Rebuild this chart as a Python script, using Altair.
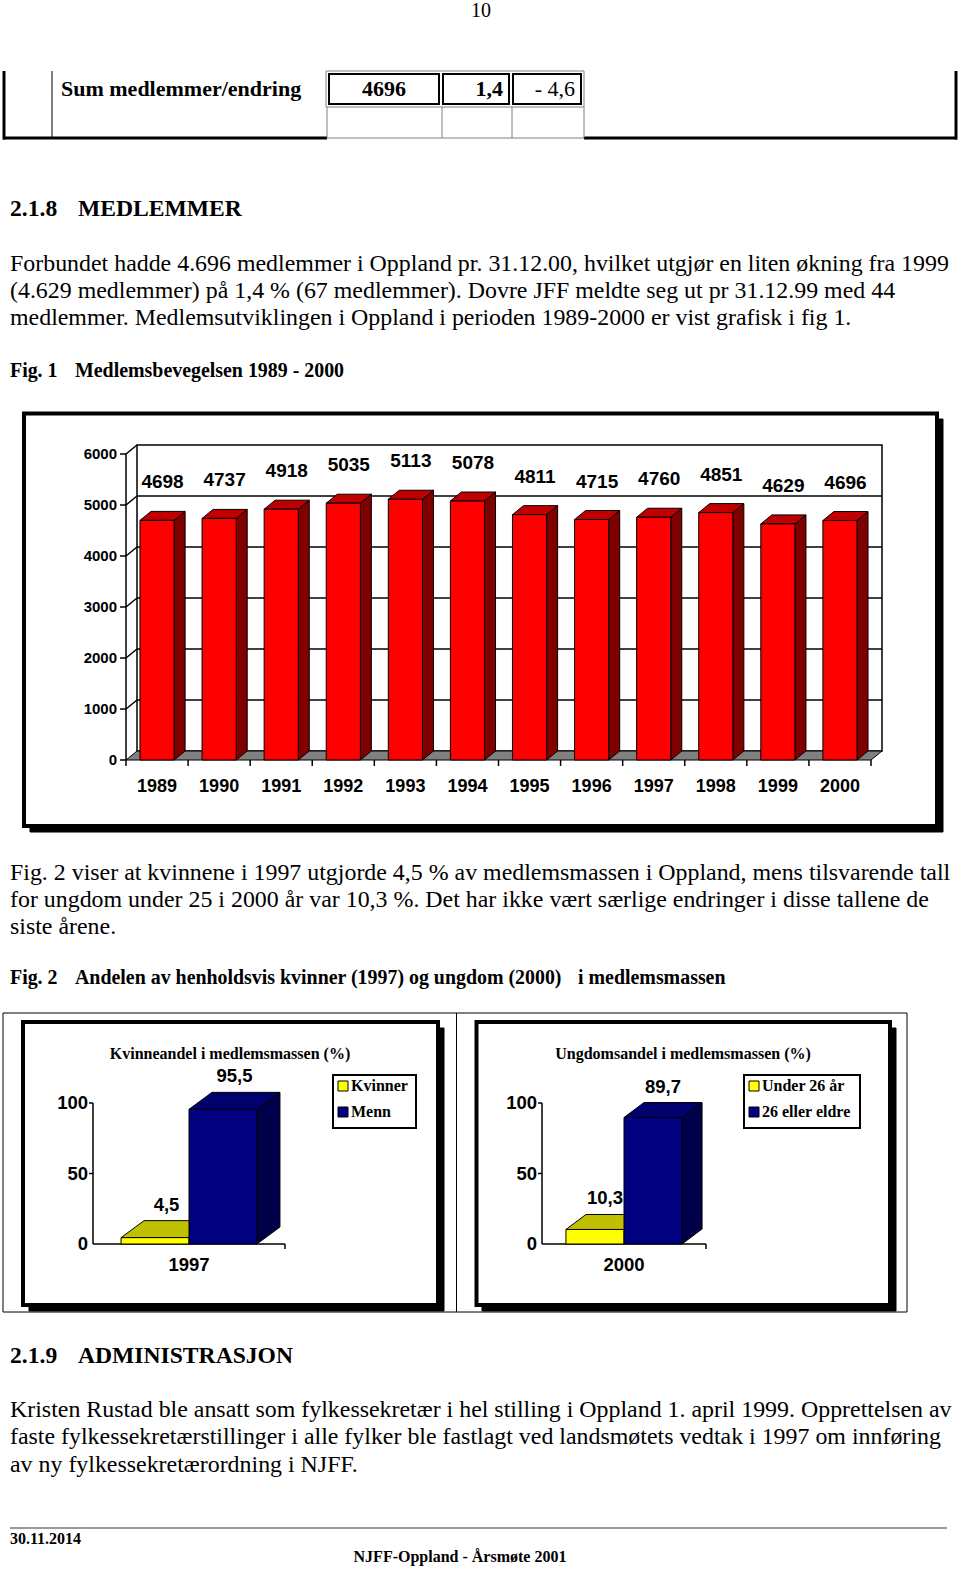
import altair as alt
import pandas as pd

# ---------------- data ----------------
years = ["1989", "1990", "1991", "1992", "1993", "1994",
         "1995", "1996", "1997", "1998", "1999", "2000"]
members = [4698, 4737, 4918, 5035, 5113, 5078, 4811, 4715, 4760, 4851, 4629, 4696]
fig1_ticks = [0, 1000, 2000, 3000, 4000, 5000, 6000]

women_title = "Kvinneandel i medlemsmassen (%)"
women_year = "1997"
women_series = ["Kvinner", "Menn"]
women_values = [4.5, 95.5]
women_labels = ["4,5", "95,5"]

youth_title = "Ungdomsandel i medlemsmassen (%)"
youth_year = "2000"
youth_series = ["Under 26 år", "26 eller eldre"]
youth_values = [10.3, 89.7]
youth_labels = ["10,3", "89,7"]
fig2_ticks = [0, 50, 100]

table_label = "Sum medlemmer/endring"
table_values = ["4696", "1,4", "- 4,6"]

page_number = "10"
heading1 = ["2.1.8", "MEDLEMMER"]
heading2 = ["2.1.9", "ADMINISTRASJON"]
para1 = ["Forbundet hadde 4.696 medlemmer i Oppland pr. 31.12.00, hvilket utgjør en liten økning fra 1999",
         "(4.629 medlemmer) på 1,4 % (67 medlemmer). Dovre JFF meldte seg ut pr 31.12.99 med 44",
         "medlemmer. Medlemsutviklingen i Oppland i perioden 1989-2000 er vist grafisk i fig 1."]
caption1 = ["Fig. 1", "Medlemsbevegelsen 1989 - 2000"]
para2 = ["Fig. 2 viser at kvinnene i 1997 utgjorde 4,5 % av medlemsmassen i Oppland, mens tilsvarende tall",
         "for ungdom under 25 i 2000 år var 10,3 %. Det har ikke vært særlige endringer i disse tallene de",
         "siste årene."]
caption2 = ["Fig. 2", "Andelen av henholdsvis kvinner (1997) og ungdom (2000)", "i medlemsmassen"]
para3 = ["Kristen Rustad ble ansatt som fylkessekretær i hel stilling i Oppland 1. april 1999. Opprettelsen av",
         "faste fylkessekretærstillinger i alle fylker ble fastlagt ved landsmøtets vedtak i 1997 om innføring",
         "av ny fylkessekretærordning i NJFF."]
footer_date = "30.11.2014"
footer_title = "NJFF-Oppland - Årsmøte 2001"

# ---------------- styles ----------------
SERIF = "Liberation Serif"
SANS = "Liberation Sans"
RED = ["#FF0000", "#C00000", "#800000"]          # front, top, side
YELLOW = ["#FFFF00", "#C0C000", "#9A9A00"]
NAVY = ["#000080", "#00006E", "#00004A"]


def px(f):
    return alt.X(f"{f}:Q", scale=None, axis=None)


def py(f):
    return alt.Y(f"{f}:Q", scale=None, axis=None)


def page_text(rows, font, size, weight="normal", align="left"):
    df = pd.DataFrame(rows, columns=["t", "x", "y"])
    return alt.Chart(df).mark_text(font=font, fontSize=size, fontWeight=weight, align=align,
                                   baseline="middle", color="black").encode(
        x=px("x"), y=py("y"), text="t:N")


def page_rects(rows):
    df = pd.DataFrame(rows, columns=["x", "y", "x2", "y2", "fill", "stroke", "sw"])
    return alt.Chart(df).mark_rect().encode(
        x=px("x"), y=py("y"), x2="x2:Q", y2="y2:Q",
        fill=alt.Fill("fill:N", scale=None),
        stroke=alt.Stroke("stroke:N", scale=None),
        strokeWidth=alt.StrokeWidth("sw:Q", scale=None))


def page_rules(rows):
    df = pd.DataFrame(rows, columns=["x", "y", "x2", "y2", "c", "sw"])
    return alt.Chart(df).mark_rule().encode(
        x=px("x"), y=py("y"), x2="x2:Q", y2="y2:Q",
        color=alt.Color("c:N", scale=None),
        strokeWidth=alt.StrokeWidth("sw:Q", scale=None))


# ---------------- page layer ----------------
rects = [
    # table row 1 double border
    (326, 71, 584, 107, "white", "#808080", 1),
    (329, 74, 439, 104, "white", "black", 2),
    (443, 74, 509, 104, "white", "black", 2),
    (513, 74, 581, 104, "white", "black", 2),
    # fig 1 frame
    (30, 419, 943, 832, "black", "black", 1),
    (24, 413.5, 937, 826, "white", "black", 4),
    # fig 2 frames
    (3, 1013, 907, 1312, "white", "black", 1),
    (29, 1028, 444, 1311, "black", "black", 1),
    (23, 1022, 438, 1305, "white", "black", 4),
    (482, 1028, 896, 1311, "black", "black", 1),
    (476.5, 1022, 890, 1305, "white", "black", 4),
    # legend boxes
    (333, 1075, 416, 1128, "white", "black", 2),
    (744, 1075, 860, 1128, "white", "black", 2),
]
rules = [
    (4, 71, 4, 139.5, "black", 3),
    (52, 71, 52, 138, "black", 1),
    (956, 71, 956, 139.5, "black", 3),
    (3, 138, 327, 138, "black", 3),
    (584, 138, 957, 138, "black", 3),
    (327, 138, 584, 138, "#808080", 1),
    (327, 107, 327, 138, "#808080", 1),
    (442, 107, 442, 138, "#808080", 1),
    (512, 107, 512, 138, "#808080", 1),
    (584, 107, 584, 138, "#808080", 1),
    (456.5, 1013, 456.5, 1312, "black", 1),
    (10, 1528, 947, 1528, "#9a9a9a", 2),
]

# legend entries built from series names and colours
leg_rows = []
leg_text = []
for (names, x0) in [(women_series, 338), (youth_series, 749)]:
    for k, (nm, col) in enumerate(zip(names, [YELLOW[0], NAVY[0]])):
        yc = [1086, 1112][k]
        leg_rows.append((x0, yc - 5, x0 + 10, yc + 5, col, "black", 1))
        leg_text.append((nm, x0 + 13, yc))

body_y = [264, 291, 318]
body2_y = [873, 900, 927]
body3_y = [1410, 1437, 1465]
page = alt.layer(
    page_rects(rects),
    page_rules(rules),
    page_rects(leg_rows),
    page_text([(page_number, 481, 11)], SERIF, 20, align="center"),
    page_text([(table_label, 61, 89)], SERIF, 22, "bold"),
    page_text([(table_values[0], 384, 89)], SERIF, 22, "bold", "center"),
    page_text([(table_values[1], 503, 89)], SERIF, 22, "bold", "right"),
    page_text([(table_values[2], 575, 89)], SERIF, 22, "normal", "right"),
    page_text([(heading1[0], 10, 209), (heading1[1], 78, 209),
               (heading2[0], 10, 1356), (heading2[1], 78, 1356)], SERIF, 23.6, "bold"),
    page_text([(t, 10, y) for t, y in zip(para1 + para2 + para3, body_y + body2_y + body3_y)],
              SERIF, 23.9),
    page_text([(caption1[0], 10, 371), (caption1[1], 75, 371),
               (caption2[0], 10, 978), (caption2[1], 75, 978), (caption2[2], 578, 978)],
              SERIF, 19.9, "bold"),
    page_text([(women_title, 230, 1054), (youth_title, 683, 1054)], SERIF, 16, "bold", "center"),
    page_text(leg_text, SERIF, 16, "bold"),
    page_text([(footer_date, 10, 1539)], SERIF, 16, "bold"),
    page_text([(footer_title, 460, 1557)], SERIF, 16, "bold", "center"),
)


# ---------------- 3D bar helpers ----------------
def lin(domain, rng):
    return alt.Scale(domain=domain, range=rng, nice=False, zero=False)


def bar3d_layers(xs, ys, bars, DX, DY):
    """bars: (id, left, right, value, front, top, side)"""
    side_rows, top_rows, front_rows = [], [], []
    for bid, L, R, v, fc, tc, sc in bars:
        side_rows += [(bid, R, v, 0, sc), (bid, R + DX, v + DY, DY, sc)]
        top_rows += [(bid, L, v, v, tc), (bid, L + DX, v + DY, v, tc),
                     (bid, R, v + DY, v, tc), (bid, R + DX, v + DY, v + DY, tc)]
        front_rows.append((bid, L, R, 0, v, fc))
    cols = ["id", "x", "y", "y2", "c"]
    side_df = pd.DataFrame(side_rows, columns=cols)
    top_df = pd.DataFrame(top_rows, columns=cols)
    front_df = pd.DataFrame(front_rows, columns=["id", "x", "x2", "y", "y2", "c"])

    def area(df):
        return alt.Chart(df).mark_area(stroke="black", strokeWidth=1, strokeJoin="miter").encode(
            x=alt.X("x:Q", scale=xs, axis=None),
            y=alt.Y("y:Q", scale=ys, axis=None, stack=None),
            y2="y2:Q", detail="id:N",
            fill=alt.Fill("c:N", scale=None))

    front = alt.Chart(front_df).mark_rect(stroke="black", strokeWidth=1).encode(
        x=alt.X("x:Q", scale=xs, axis=None), x2="x2:Q",
        y=alt.Y("y:Q", scale=ys, axis=None), y2="y2:Q",
        fill=alt.Fill("c:N", scale=None))
    return [area(side_df), area(top_df), front]


def rules_on(xs, ys, rows, width=1.5, color="black"):
    df = pd.DataFrame(rows, columns=["x", "x2", "y", "y2"])
    return alt.Chart(df).mark_rule(color=color, strokeWidth=width).encode(
        x=alt.X("x:Q", scale=xs, axis=None), x2="x2:Q",
        y=alt.Y("y:Q", scale=ys, axis=None), y2="y2:Q")


def labels_on(xs, ys, rows, size, align="center", dx=0, dy=0, font=SANS):
    df = pd.DataFrame(rows, columns=["t", "x", "y"])
    return alt.Chart(df).mark_text(font=font, fontSize=size, fontWeight="bold", align=align,
                                   baseline="middle", dx=dx, dy=dy, color="black").encode(
        x=alt.X("x:Q", scale=xs, axis=None), y=alt.Y("y:Q", scale=ys, axis=None), text="t:N")


# ---------------- fig 1 ----------------
n = len(years)
F1X = [126, 871]
F1Y = [760, 454]
F1MAX = fig1_ticks[-1]
ppx = (F1X[1] - F1X[0]) / n
ppy = (F1Y[0] - F1Y[1]) / F1MAX
DX1 = 11 / ppx
DY1 = 9 / ppy
BL, BR = 0.225, 0.775
xs1 = lin([0, n], F1X)
ys1 = lin([0, F1MAX], F1Y)

wall_df = pd.DataFrame([(DX1, n + DX1, DY1, F1MAX + DY1)], columns=["x", "x2", "y", "y2"])
wall = alt.Chart(wall_df).mark_rect(fill="white", stroke="black", strokeWidth=1.5).encode(
    x=alt.X("x:Q", scale=xs1, axis=None), x2="x2:Q",
    y=alt.Y("y:Q", scale=ys1, axis=None), y2="y2:Q")
grid = rules_on(xs1, ys1, [(DX1, n + DX1, v + DY1, v + DY1) for v in fig1_ticks[1:-1]])
diag = rules_on(xs1, ys1, [(0, DX1, v, v + DY1) for v in fig1_ticks[1:]])
yaxis = rules_on(xs1, ys1, [(0, 0, 0, F1MAX)] + [(-6 / ppx, 0, v, v) for v in fig1_ticks])
xticks = rules_on(xs1, ys1, [(k, k, 0, -6 / ppy) for k in range(n + 1)])
floor_df = pd.DataFrame([("f", 0, 0, 0, "#808080"), ("f", DX1, DY1, 0, "#808080"),
                         ("f", n, DY1, 0, "#808080"), ("f", n + DX1, DY1, DY1, "#808080")],
                        columns=["id", "x", "y", "y2", "c"])
floor = alt.Chart(floor_df).mark_area(stroke="black", strokeWidth=1).encode(
    x=alt.X("x:Q", scale=xs1, axis=None),
    y=alt.Y("y:Q", scale=ys1, axis=None, stack=None), y2="y2:Q",
    fill=alt.Fill("c:N", scale=None))

bars1 = [(i, i + BL, i + BR, v, RED[0], RED[1], RED[2]) for i, v in enumerate(members)]
fig1 = alt.layer(
    wall, grid, diag, floor, yaxis, xticks,
    *bar3d_layers(xs1, ys1, bars1, DX1, DY1),
    labels_on(xs1, ys1, [(str(v), 0, v) for v in fig1_ticks], 15, "right", dx=-9),
    labels_on(xs1, ys1, [(y, i + 0.5, 0) for i, y in enumerate(years)], 18, dy=27),
    labels_on(xs1, ys1, [(str(v), i + 0.5 + DX1 / 2, v) for i, v in enumerate(members)], 19, dy=-38),
)


# ---------------- fig 2 panels ----------------
def panel(values, labels, year, xr, yr, dx_px, dy_px):
    xs = lin([0, 1], xr)
    ys = lin([0, fig2_ticks[-1]], yr)
    pxu = xr[1] - xr[0]
    pyu = (yr[0] - yr[1]) / fig2_ticks[-1]
    DX = dx_px / pxu
    DY = dy_px / pyu
    edges = [0.146, 0.5, 0.854]
    cols = [YELLOW, NAVY]
    bars = [(k, edges[k], edges[k + 1], v, cols[k][0], cols[k][1], cols[k][2])
            for k, v in enumerate(values)]
    axis_rules = rules_on(xs, ys, [(0, 0, 0, fig2_ticks[-1]), (0, 1, 0, 0), (1, 1, 0, -5 / pyu)]
                          + [(-4 / pxu, 0, v, v) for v in fig2_ticks[1:]], width=1.5)
    return alt.layer(
        axis_rules,
        *bar3d_layers(xs, ys, bars, DX, DY),
        labels_on(xs, ys, [(str(v), 0, v) for v in fig2_ticks], 18.5, "right", dx=-5),
        labels_on(xs, ys, [(year, 0.5, 0)], 18.5, dy=21),
        labels_on(xs, ys, [(lab, (edges[k] + edges[k + 1]) / 2 + DX / 2, v + DY)
                           for k, (lab, v) in enumerate(zip(labels, values))], 18.5, dy=-16),
    )


fig2a = panel(women_values, women_labels, women_year, [93, 285], [1244, 1103], 23, 17)
fig2b = panel(youth_values, youth_labels, youth_year, [542, 706], [1244, 1103], 20, 15)

chart = alt.layer(page, fig1, fig2a, fig2b).resolve_scale(
    x="independent", y="independent"
).properties(
    width=960, height=1572, autosize=alt.AutoSizeParams(type="none"), padding=0, background="white"
).configure_view(stroke=None)

chart.save("out.html", embed_options={"renderer": "svg", "actions": False})
